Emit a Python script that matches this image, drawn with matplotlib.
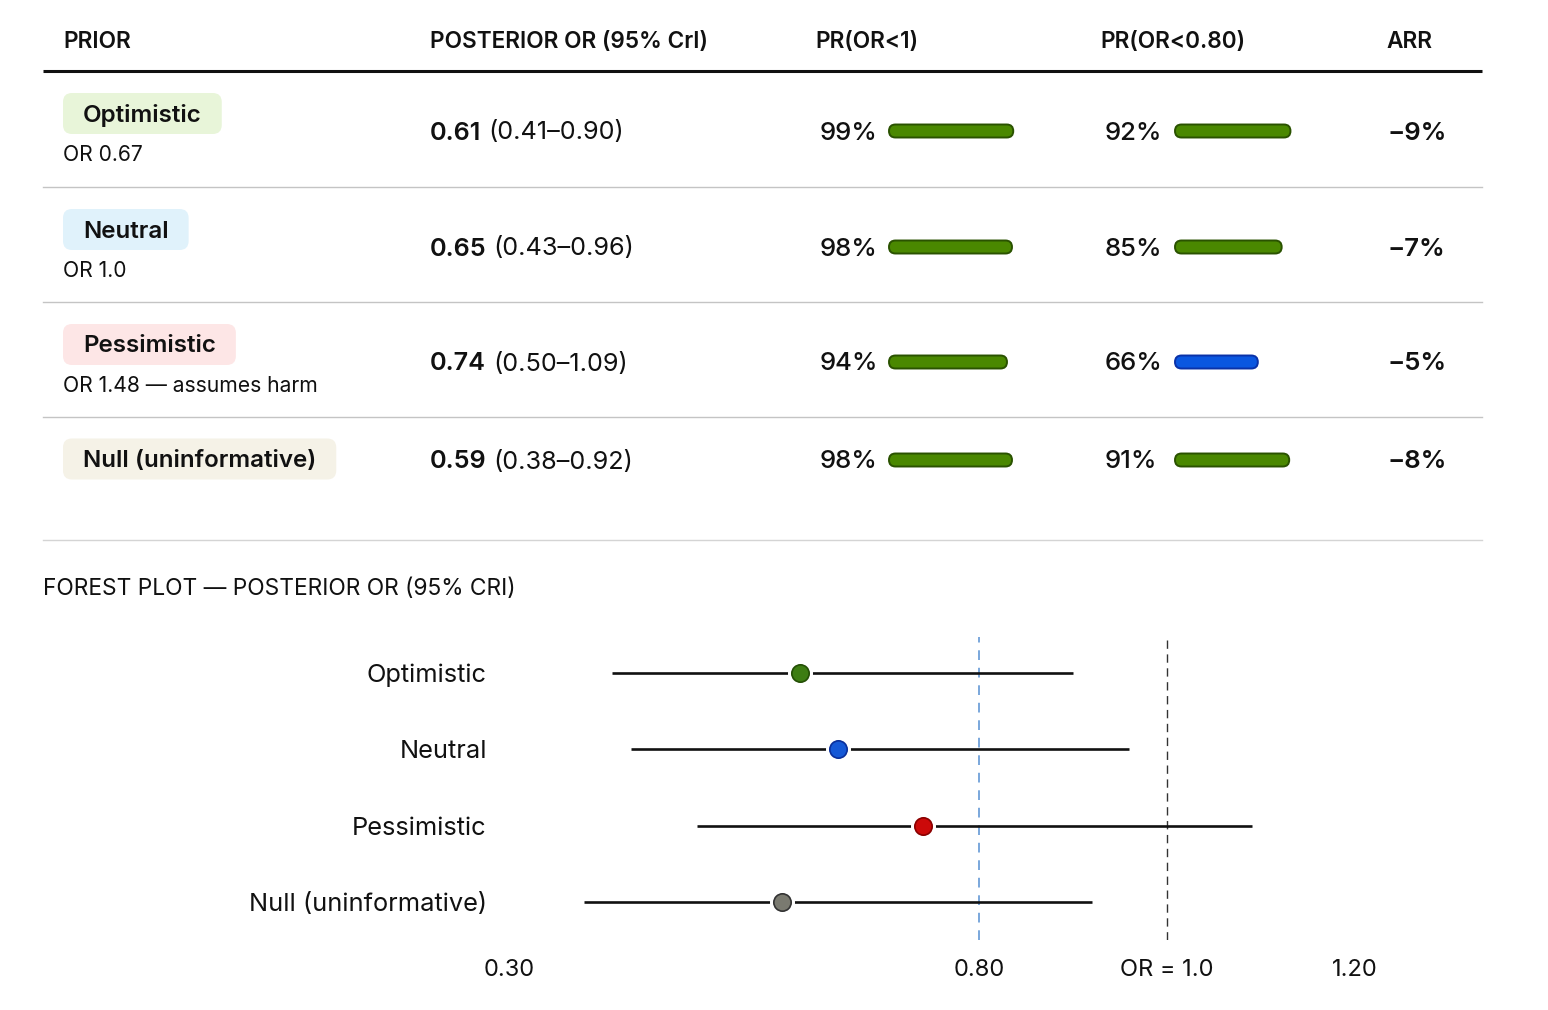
import matplotlib
matplotlib.use("Agg")
import matplotlib.pyplot as plt
from matplotlib.patches import FancyBboxPatch

# ---------------- data ----------------
priors = ["Optimistic", "Neutral", "Pessimistic", "Null (uninformative)"]
prior_desc = ["OR 0.67", "OR 1.0", "OR 1.48 \u2014 assumes harm", ""]
post_or = [0.61, 0.65, 0.74, 0.59]
cri_lo = [0.41, 0.43, 0.50, 0.38]
cri_hi = [0.90, 0.96, 1.09, 0.92]
pr_lt1 = [99, 98, 94, 98]
pr_lt080 = [92, 85, 66, 91]
arr = [-9, -7, -5, -8]
headers = ["PRIOR", "POSTERIOR OR (95% CrI)", "PR(OR<1)", "PR(OR<0.80)", "ARR"]
badge_colors = ["#e8f5d9", "#e0f2fb", "#fde6e6", "#f5f2e7"]
marker_colors = ["#3d7d12", "#1558d6", "#cc0a0a", "#7a7a70"]
marker_edges = ["#244f05", "#0a2f9a", "#8a0000", "#333333"]
forest_ticks = [0.30, 0.80, 1.0, 1.20]
forest_ticklabels = ["0.30", "0.80", "OR = 1.0", "1.20"]
forest_title = "FOREST PLOT \u2014 POSTERIOR OR (95% CRI)"

FONT = ["Inter", "DejaVu Sans"]
plt.rcParams["font.family"] = FONT

W, H = 1548, 1010
fig = plt.figure(figsize=(W / 100, H / 100), dpi=100)
fig.patch.set_facecolor("white")
ax = fig.add_axes([0, 0, 1, 1])
ax.set_xlim(0, W)
ax.set_ylim(H, 0)
ax.axis("off")

fig.canvas.draw()
renderer = fig.canvas.get_renderer()

DY = 2  # small baseline nudge for centred text


def text_right(t):
    bb = t.get_window_extent(renderer=renderer)
    inv = ax.transData.inverted()
    (x0, _), (x1, _) = inv.transform([(bb.x0, bb.y0), (bb.x1, bb.y1)])
    return x1


# header
col_x = [63, 430, 815, 1100, 1386]
for hx, h in zip(col_x, headers):
    ax.text(hx, 40 + DY, h, fontsize=16.3, fontweight="semibold", va="center", ha="left", color="#111111")
ax.plot([43, 1482], [71, 71], color="#111111", lw=2.2, solid_capstyle="butt")

row_top = [71, 187, 302, 417]
sep_y = [187, 302, 417]
for y in sep_y:
    ax.plot([43, 1482], [y, y], color="#c4c4c4", lw=1.0)
ax.plot([43, 1482], [540, 540], color="#d4d4d4", lw=1.0)

BAR_SCALE = 1.255
BAR_H = 13


def bar(x0, yc, pct):
    w = pct * BAR_SCALE
    good = pct >= 80
    fc = "#4a8800" if good else "#0a57e0"
    ec = "#2a5200" if good else "#0a32a8"
    p = FancyBboxPatch((x0, yc - BAR_H / 2), w, BAR_H,
                       boxstyle="round,pad=0,rounding_size=6.5",
                       fc=fc, ec=ec, lw=1.4, zorder=3)
    ax.add_patch(p)


for i, name in enumerate(priors):
    top = row_top[i]
    has_desc = prior_desc[i] != ""
    badge_c = top + 42.5 if has_desc else top + 42
    main_y = top + 60 if has_desc else top + 43
    # badge
    t = ax.text(83, badge_c + DY, name, fontsize=17.4, fontweight="semibold",
                va="center", ha="left", color="#111111", zorder=4)
    xr = text_right(t)
    bp = FancyBboxPatch((63, badge_c - 20.5), xr + 20 - 63, 41,
                        boxstyle="round,pad=0,rounding_size=9",
                        fc=badge_colors[i], ec="none", zorder=2)
    ax.add_patch(bp)
    if has_desc:
        ax.text(63, top + 82 + DY, prior_desc[i], fontsize=15.2, va="center", ha="left", color="#111111")
    # posterior
    tb = ax.text(430, main_y + DY, f"{post_or[i]:.2f}", fontsize=18.2, fontweight="semibold",
                 va="center", ha="left", color="#111111")
    xr = text_right(tb)
    ax.text(xr + 7, main_y + DY, f"({cri_lo[i]:.2f}\u2013{cri_hi[i]:.2f})", fontsize=18.2,
            va="center", ha="left", color="#111111")
    # probabilities
    ax.text(820, main_y + DY, f"{pr_lt1[i]}%", fontsize=18.5, fontweight="medium",
            va="center", ha="left", color="#111111")
    bar(889, main_y, pr_lt1[i])
    ax.text(1105, main_y + DY, f"{pr_lt080[i]}%", fontsize=18.5, fontweight="medium",
            va="center", ha="left", color="#111111")
    bar(1175, main_y, pr_lt080[i])
    # ARR
    ax.text(1387, main_y + DY, f"\u2212{abs(arr[i])}%", fontsize=18.5, fontweight="semibold",
            va="center", ha="left", color="#111111")

# forest title
ax.text(43, 587 + DY, forest_title, fontsize=16.4, va="center", ha="left", color="#111111")

# ---------------- forest plot ----------------
x_left, x_right = 509, 1355
y_top, y_bot = 637, 940
fax = fig.add_axes([x_left / W, 1 - y_bot / H, (x_right - x_left) / W, (y_bot - y_top) / H])
fax.patch.set_alpha(0)
fax.set_xlim(0.30, 1.20)
fax.set_ylim(3.5, -0.47)
for s in fax.spines.values():
    s.set_visible(False)

fax.axvline(0.80, color="#7aa7dc", lw=1.4, ls=(0, (5, 4)), zorder=1)
fax.axvline(1.0, color="#333333", lw=1.0, ls=(0, (6, 4)), zorder=1)

ys = list(range(len(priors)))
for i in ys:
    fax.plot([cri_lo[i], cri_hi[i]], [i, i], color="#111111", lw=1.9, solid_capstyle="butt", zorder=2)
    fax.plot([post_or[i]], [i], marker="o", ms=17, mfc="white", mec="white", zorder=3)
    fax.plot([post_or[i]], [i], marker="o", ms=12.5, mfc=marker_colors[i],
             mec=marker_edges[i], mew=1.2, zorder=4)

fax.set_yticks(ys)
fax.set_yticklabels(priors, fontsize=18.3, color="#111111")
fax.set_xticks(forest_ticks)
fax.set_xticklabels(forest_ticklabels, fontsize=17, color="#111111")
fax.tick_params(axis="y", length=0, pad=16)
fax.tick_params(axis="x", length=0, pad=14)

fig.savefig("out.png", dpi=100, facecolor="white")
